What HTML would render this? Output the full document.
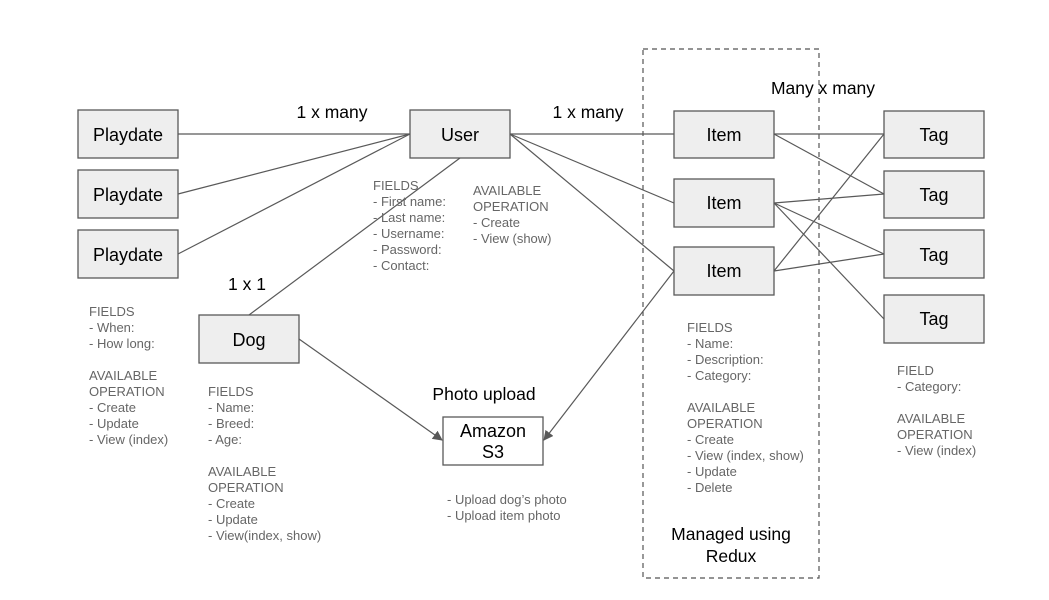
<!DOCTYPE html>
<html><head><meta charset="utf-8"><style>
html,body{margin:0;padding:0;background:#fff;}
svg{display:block;}
.b{fill:#eeeeee;stroke:#595959;stroke-width:1.3;}
.bl{font-family:"Liberation Sans",sans-serif;font-size:18px;fill:#000;text-anchor:middle;}
.lb{font-family:"Liberation Sans",sans-serif;font-size:17.5px;fill:#000;text-anchor:middle;}
.n{font-family:"Liberation Sans",sans-serif;font-size:13px;fill:#666;}
line{stroke:#595959;stroke-width:1.2;}
</style></head><body>
<svg width="1049" height="600" xmlns="http://www.w3.org/2000/svg">
<defs><marker id="ar" markerWidth="10" markerHeight="10" refX="9" refY="5" orient="auto" markerUnits="userSpaceOnUse"><path d="M0,0 L10,5 L0,10 z" fill="#595959"/></marker></defs>
<rect x="643" y="49" width="176" height="529" fill="none" stroke="#555" stroke-width="1.2" stroke-dasharray="5,4"/>
<line x1="178" y1="134" x2="410" y2="134"/>
<line x1="178" y1="194" x2="410" y2="134"/>
<line x1="178" y1="254" x2="410" y2="134"/>
<line x1="460" y1="158" x2="249" y2="315"/>
<line x1="510" y1="134" x2="674" y2="134"/>
<line x1="510" y1="134" x2="674" y2="203"/>
<line x1="510" y1="134" x2="674" y2="271"/>
<line x1="774" y1="134" x2="884" y2="134"/>
<line x1="774" y1="134" x2="884" y2="194"/>
<line x1="774" y1="203" x2="884" y2="194"/>
<line x1="774" y1="203" x2="884" y2="254"/>
<line x1="774" y1="203" x2="884" y2="319"/>
<line x1="774" y1="271" x2="884" y2="134"/>
<line x1="774" y1="271" x2="884" y2="254"/>
<line x1="299" y1="339" x2="442" y2="440" marker-end="url(#ar)"/>
<line x1="674" y1="271" x2="544" y2="440" marker-end="url(#ar)"/>
<rect class="b" x="78" y="110" width="100" height="48"/><text class="bl" x="128" y="141">Playdate</text>
<rect class="b" x="78" y="170" width="100" height="48"/><text class="bl" x="128" y="201">Playdate</text>
<rect class="b" x="78" y="230" width="100" height="48"/><text class="bl" x="128" y="261">Playdate</text>
<rect class="b" x="410" y="110" width="100" height="48"/><text class="bl" x="460" y="141">User</text>
<rect class="b" x="199" y="315" width="100" height="48"/><text class="bl" x="249" y="346">Dog</text>
<rect class="b" x="674" y="111" width="100" height="47"/><text class="bl" x="724" y="141">Item</text>
<rect class="b" x="674" y="179" width="100" height="48"/><text class="bl" x="724" y="209">Item</text>
<rect class="b" x="674" y="247" width="100" height="48"/><text class="bl" x="724" y="277">Item</text>
<rect class="b" x="884" y="111" width="100" height="47"/><text class="bl" x="934" y="141">Tag</text>
<rect class="b" x="884" y="171" width="100" height="47"/><text class="bl" x="934" y="201">Tag</text>
<rect class="b" x="884" y="230" width="100" height="48"/><text class="bl" x="934" y="261">Tag</text>
<rect class="b" x="884" y="295" width="100" height="48"/><text class="bl" x="934" y="325">Tag</text>
<rect x="443" y="417" width="100" height="48" fill="#fff" stroke="#595959" stroke-width="1.3"/>
<text class="bl" x="493" y="437">Amazon</text><text class="bl" x="493" y="458">S3</text>
<text class="lb" x="332" y="118">1 x many</text>
<text class="lb" x="588" y="118">1 x many</text>
<text class="lb" x="823" y="94">Many x many</text>
<text class="lb" x="247" y="290">1 x 1</text>
<text class="lb" x="484" y="400">Photo  upload</text>
<text class="lb" x="731" y="540">Managed using</text>
<text class="lb" x="731" y="562">Redux</text>
<g class="n">
<text x="89" y="316">FIELDS</text><text x="89" y="332">- When:</text><text x="89" y="348">- How long:</text>
<text x="89" y="380">AVAILABLE</text><text x="89" y="396">OPERATION</text><text x="89" y="412">- Create</text><text x="89" y="428">- Update</text><text x="89" y="444">- View (index)</text>
<text x="208" y="396">FIELDS</text><text x="208" y="412">- Name:</text><text x="208" y="428">- Breed:</text><text x="208" y="444">- Age:</text>
<text x="208" y="476">AVAILABLE</text><text x="208" y="492">OPERATION</text><text x="208" y="508">- Create</text><text x="208" y="524">- Update</text><text x="208" y="540">- View(index, show)</text>
<text x="373" y="190">FIELDS</text><text x="373" y="206">- First name:</text><text x="373" y="222">- Last name:</text><text x="373" y="238">- Username:</text><text x="373" y="254">- Password:</text><text x="373" y="270">- Contact:</text>
<text x="473" y="195">AVAILABLE</text><text x="473" y="211">OPERATION</text><text x="473" y="227">- Create</text><text x="473" y="243">- View (show)</text>
<text x="687" y="332">FIELDS</text><text x="687" y="348">- Name:</text><text x="687" y="364">- Description:</text><text x="687" y="380">- Category:</text>
<text x="687" y="412">AVAILABLE</text><text x="687" y="428">OPERATION</text><text x="687" y="444">- Create</text><text x="687" y="460">- View (index, show)</text><text x="687" y="476">- Update</text><text x="687" y="492">- Delete</text>
<text x="897" y="375">FIELD</text><text x="897" y="391">- Category:</text>
<text x="897" y="423">AVAILABLE</text><text x="897" y="439">OPERATION</text><text x="897" y="455">- View (index)</text>
<text x="447" y="504">- Upload dog’s photo</text><text x="447" y="520">- Upload item photo</text>
</g>
</svg>
</body></html>
